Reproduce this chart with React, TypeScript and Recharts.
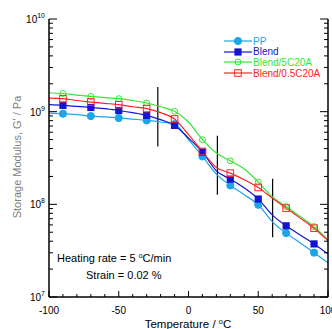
import React from "react";
import {
  LineChart, Line, XAxis, YAxis, Legend, ReferenceLine, Customized,
} from "recharts";

const temps = [-100, -90, -80, -70, -60, -50, -40, -30, -20, -10, 0, 10, 20, 30, 40, 50, 60, 70, 80, 90, 100];

const pp = [9.64e8, 9.51e8, 9.29e8, 8.97e8, 8.77e8, 8.55e8, 8.3e8, 8.05e8, 7.74e8, 7.33e8, 4.98e8, 3.29e8, 2.12e8, 1.6e8, 1.27e8, 9.89e7, 6.52e7, 4.89e7, 3.86e7, 3.01e7, 2.34e7];
const blend = [1.19e9, 1.17e9, 1.14e9, 1.11e9, 1.08e9, 1.03e9, 9.75e8, 9.12e8, 8.2e8, 7.11e8, 5.2e8, 3.66e8, 2.3e8, 1.87e8, 1.5e8, 1.14e8, 7.69e7, 5.86e7, 4.68e7, 3.74e7, 2.92e7];
const blend5 = [1.6e9, 1.57e9, 1.51e9, 1.46e9, 1.42e9, 1.38e9, 1.32e9, 1.24e9, 1.13e9, 1.01e9, 7.74e8, 4.98e8, 3.58e8, 2.95e8, 2.4e8, 1.74e8, 1.21e8, 9.46e7, 7.38e7, 5.75e7, 4.13e7];
const blend05 = [1.4e9, 1.38e9, 1.32e9, 1.27e9, 1.23e9, 1.19e9, 1.13e9, 1.08e9, 9.75e8, 8.34e8, 5.64e8, 3.72e8, 2.5e8, 2.17e8, 1.84e8, 1.52e8, 1.17e8, 9.1e7, 7.1e7, 5.53e7, 4.06e7];

// markers only every 20 °C (-90, -70, ... 90)
const markerTemps = [-90, -70, -50, -30, -10, 10, 30, 50, 70, 90];

const xTicks = [-100, -90, -80, -70, -60, -50, -40, -30, -20, -10, 0, 10, 20, 30, 40, 50, 60, 70, 80, 90, 100];
const xLabels = [-100, -50, 0, 50, 100];
const decades = [1e7, 1e8, 1e9, 1e10];
const yTicks = [
  1e7, 2e7, 3e7, 4e7, 5e7, 6e7, 7e7, 8e7, 9e7,
  1e8, 2e8, 3e8, 4e8, 5e8, 6e8, 7e8, 8e8, 9e8,
  1e9, 2e9, 3e9, 4e9, 5e9, 6e9, 7e9, 8e9, 9e9, 1e10,
];

// vertical black marks: [temperature, from, to]
const marks = [
  [-22, 4.2e8, 1.85e9],
  [20.7, 1.27e8, 5.5e8],
  [60.3, 4.4e7, 1.89e8],
];

const series = [
  { key: "pp", name: "PP", color: "#1AA7E8", marker: "circleFill" },
  { key: "blend", name: "Blend", color: "#1414D2", marker: "squareFill" },
  { key: "blend5", name: "Blend/5C20A", color: "#33E833", marker: "circleOpen" },
  { key: "blend05", name: "Blend/0.5C20A", color: "#FF2424", marker: "squareOpen" },
];

const data = temps.map((t, i) => ({
  t,
  pp: pp[i],
  blend: blend[i],
  blend5: blend5[i],
  blend05: blend05[i],
}));

const FONT = "'Liberation Sans', Arial, sans-serif";

function Marker({ type, cx, cy, color }: { type: string; cx: number; cy: number; color: string }) {
  if (type === "circleFill") return <circle cx={cx} cy={cy} r={3.6} fill={color} stroke={color} />;
  if (type === "squareFill") return <rect x={cx - 3.6} y={cy - 3.6} width={7.2} height={7.2} fill={color} />;
  if (type === "circleOpen") return <circle cx={cx} cy={cy} r={3} fill="none" stroke={color} strokeWidth={1} />;
  return <rect x={cx - 3.3} y={cy - 3.3} width={6.6} height={6.6} fill="none" stroke={color} strokeWidth={1} />;
}

const makeDot = (type: string, color: string) => (props: any) => {
  const { cx, cy, index, payload } = props;
  if (!markerTemps.includes(payload.t)) return <g key={`d-${index}`} />;
  return (
    <g key={`d-${index}`}>
      <Marker type={type} cx={cx} cy={cy} color={color} />
    </g>
  );
};

const LeftTick = (props: any) => {
  const { x, y, payload } = props;
  const v = payload.value;
  const major = decades.includes(v);
  const exp = Math.round(Math.log10(v));
  return (
    <g>
      <line x1={x} x2={x + (major ? 8 : 4)} y1={y} y2={y} stroke="#000" strokeWidth={1} />
      {major && (
        <text x={x - 4} y={y + 4} textAnchor="end" fontSize={10} fontFamily={FONT} fill="#000">
          10<tspan dy={-5} fontSize={7}>{exp}</tspan>
        </text>
      )}
    </g>
  );
};

const RightTick = (props: any) => {
  const { x, y, payload } = props;
  const major = decades.includes(payload.value);
  return <line x1={x} x2={x - (major ? 8 : 4)} y1={y} y2={y} stroke="#000" strokeWidth={1} />;
};

const BottomTick = (props: any) => {
  const { x, y, payload } = props;
  const major = xLabels.includes(payload.value);
  return (
    <g>
      <line x1={x} x2={x} y1={y} y2={y - (major ? 6 : 3)} stroke="#000" strokeWidth={1} />
      {major && (
        <text x={x} y={y + 17} textAnchor="middle" fontSize={10} fontFamily={FONT} fill="#000">
          {payload.value}
        </text>
      )}
    </g>
  );
};

const TopTick = (props: any) => {
  const { x, y, payload } = props;
  const major = xLabels.includes(payload.value);
  return <line x1={x} x2={x} y1={y} y2={y + (major ? 6 : 3)} stroke="#000" strokeWidth={1} />;
};

const renderLegend = () => (
  <div style={{ fontFamily: FONT, fontSize: 10 }}>
    {series.map((s) => (
      <div key={s.key} style={{ display: "flex", alignItems: "center", height: 10.6 }}>
        <svg width={30} height={10}>
          <line x1={2} x2={30} y1={5} y2={5} stroke={s.color} strokeWidth={1.2} />
          <Marker type={s.marker} cx={16} cy={5} color={s.color} />
        </svg>
        <span style={{ color: s.color, marginLeft: 1 }}>{s.name}</span>
      </div>
    ))}
  </div>
);

const Texts = () => (
  <g fontFamily={FONT}>
    <text x={57} y={262} fontSize={11} fill="#000">
      Heating rate = 5 <tspan dy={-4} fontSize={7}>o</tspan><tspan dy={4}>C/min</tspan>
    </text>
    <text x={86} y={279} fontSize={11} fill="#000">Strain = 0.02 %</text>
    <text x={188} y={328} fontSize={11.5} fill="#000" textAnchor="middle">
      Temperature / <tspan dy={-4} fontSize={7.5}>o</tspan><tspan dy={4}>C</tspan>
    </text>
    <text
      x={21}
      y={157}
      fontSize={11}
      fill="#808080"
      textAnchor="middle"
      transform="rotate(-90 21 157)"
    >
      Storage Modulus, G' / Pa
    </text>
  </g>
);

export default function App() {
  return (
    <div style={{ position: "absolute", left: 0, top: 0 }}>
      <LineChart
        width={332}
        height={329}
        data={data}
        margin={{ top: 19, right: 0, left: 0, bottom: 0 }}
      >
        <XAxis
          xAxisId="b"
          dataKey="t"
          type="number"
          domain={[-100, 100]}
          ticks={xTicks}
          interval={0}
          tickSize={0}
          tickMargin={0}
          tickLine={false}
          tick={<BottomTick />}
          height={32}
          axisLine={{ stroke: "#000", strokeWidth: 1.5 }}
        />
        <XAxis
          xAxisId="top"
          orientation="top"
          dataKey="t"
          type="number"
          domain={[-100, 100]}
          ticks={xTicks}
          interval={0}
          tickSize={0}
          tickMargin={0}
          tickLine={false}
          tick={<TopTick />}
          height={0}
          axisLine={{ stroke: "#000", strokeWidth: 1.5 }}
        />
        <YAxis
          yAxisId="l"
          scale="log"
          type="number"
          domain={[1e7, 1e10]}
          allowDataOverflow
          ticks={yTicks}
          interval={0}
          tickSize={0}
          tickMargin={0}
          tickLine={false}
          tick={<LeftTick />}
          width={49}
          axisLine={{ stroke: "#000", strokeWidth: 1.5 }}
        />
        <YAxis
          yAxisId="r"
          orientation="right"
          scale="log"
          type="number"
          domain={[1e7, 1e10]}
          allowDataOverflow
          ticks={yTicks}
          interval={0}
          tickSize={0}
          tickMargin={0}
          tickLine={false}
          tick={<RightTick />}
          width={4}
          axisLine={{ stroke: "#000", strokeWidth: 1.5 }}
        />
        {marks.map(([t, lo, hi], i) => (
          <ReferenceLine
            key={i}
            xAxisId="b"
            yAxisId="l"
            segment={[{ x: t, y: lo }, { x: t, y: hi }]}
            stroke="#000"
            strokeWidth={1.2}
          />
        ))}
        {series.map((s) => (
          <Line
            key={s.key}
            xAxisId="b"
            yAxisId="l"
            dataKey={s.key}
            name={s.name}
            type="monotone"
            stroke={s.color}
            strokeWidth={1.2}
            dot={makeDot(s.marker, s.color)}
            activeDot={false}
            isAnimationActive={false}
          />
        ))}
        <Legend
          layout="vertical"
          align="center"
          verticalAlign="middle"
          content={renderLegend}
          wrapperStyle={{ top: 36, left: 222, width: 110 }}
        />
        <Customized component={Texts} />
      </LineChart>
    </div>
  );
}
